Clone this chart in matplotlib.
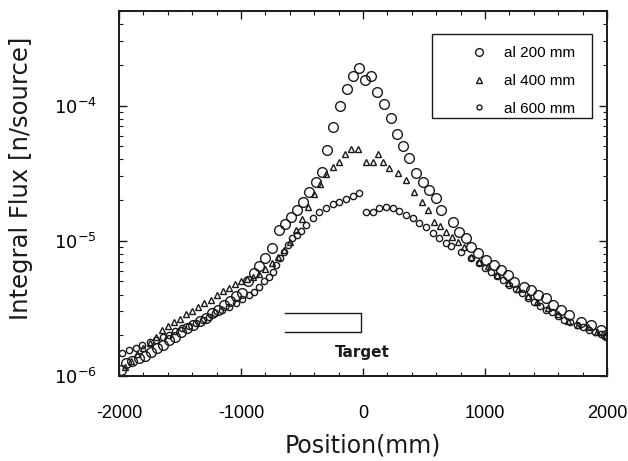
import math
import matplotlib
matplotlib.use("Agg")
import matplotlib.pyplot as plt
from matplotlib.ticker import FixedLocator, MultipleLocator, LogLocator, NullFormatter, FuncFormatter
from matplotlib.patches import Rectangle

# ---------------- data ----------------
x_200 = [-1985, -1940, -1890, -1840, -1790, -1740, -1690, -1640, -1590, -1540,
         -1490, -1440, -1390, -1340, -1290, -1240, -1190, -1140, -1090, -1040,
         -990, -940, -890, -850, -800, -745, -690, -640, -590, -540,
         -490, -440, -385, -340, -295, -245, -190, -130, -80, -30,
         15, 65, 115, 170, 230, 280, 330,
         377, 434, 492, 541, 598, 639, 738, 787, 844, 885, 943, 1008, 1074, 1131,
         1189, 1238, 1320, 1377, 1434, 1500, 1557, 1623, 1689, 1787, 1869, 1951, 1995]
y_200 = [1.1e-6, 1.25e-6, 1.3e-6, 1.35e-6, 1.4e-6, 1.5e-6, 1.6e-6, 1.7e-6, 1.85e-6, 1.95e-6,
         2.1e-6, 2.25e-6, 2.4e-6, 2.55e-6, 2.7e-6, 2.9e-6, 3.1e-6, 3.35e-6, 3.6e-6, 3.9e-6,
         4.1e-6, 5.0e-6, 5.8e-6, 6.5e-6, 7.5e-6, 8.9e-6, 12.0e-6, 13.2e-6, 15.0e-6, 17.0e-6,
         19.5e-6, 22.9e-6, 27.0e-6, 32.0e-6, 46.8e-6, 69.0e-6, 100e-6, 132e-6, 166e-6, 190e-6,
         155e-6, 166e-6, 126e-6, 102e-6, 81e-6, 62e-6, 50e-6,
         41.2e-6, 31.9e-6, 27.4e-6, 23.9e-6, 20.8e-6, 17.0e-6, 13.8e-6, 11.7e-6, 10.5e-6,
         9.04e-6, 8.15e-6, 7.23e-6, 6.64e-6, 6.10e-6, 5.60e-6, 4.97e-6, 4.56e-6, 4.34e-6,
         3.98e-6, 3.78e-6, 3.36e-6, 3.08e-6, 2.83e-6, 2.51e-6, 2.39e-6, 2.19e-6, 2.01e-6]

x_400 = [-1950, -1900, -1850, -1800, -1750, -1700, -1650, -1600, -1550, -1500,
         -1450, -1400, -1350, -1300, -1250, -1200, -1150, -1100, -1050, -1000,
         -950, -900, -850, -800, -750, -700, -650, -600, -550, -500,
         -450, -400, -350, -300, -250, -200, -150, -100, -45,
         25, 80, 125, 165, 215, 285, 350, 418, 480, 533, 582, 630, 680, 730, 780,
         830, 885, 950, 1025, 1100, 1189, 1270, 1352, 1430, 1516, 1600, 1680, 1760,
         1844, 1920, 1995]
y_400 = [1.17e-6, 1.3e-6, 1.45e-6, 1.6e-6, 1.75e-6, 1.95e-6, 2.2e-6, 2.35e-6, 2.5e-6, 2.65e-6,
         2.85e-6, 3.05e-6, 3.25e-6, 3.45e-6, 3.65e-6, 3.95e-6, 4.25e-6, 4.5e-6, 4.8e-6, 5.0e-6,
         5.2e-6, 5.4e-6, 5.7e-6, 6.2e-6, 6.8e-6, 7.6e-6, 8.6e-6, 9.8e-6, 12.0e-6, 14.5e-6,
         17.8e-6, 22.0e-6, 26.5e-6, 31.0e-6, 35.0e-6, 38.5e-6, 44.0e-6, 48.0e-6, 47.5e-6,
         38.0e-6, 38.5e-6, 43.7e-6, 38.5e-6, 34.7e-6, 31.6e-6, 28.2e-6, 22.9e-6, 19.5e-6,
         17.0e-6, 13.8e-6, 12.9e-6, 11.7e-6, 10.7e-6, 9.8e-6, 9.0e-6, 7.6e-6, 7.0e-6,
         6.46e-6, 5.6e-6, 4.9e-6, 4.4e-6, 3.9e-6, 3.5e-6, 3.16e-6, 2.85e-6, 2.57e-6,
         2.4e-6, 2.29e-6, 2.1e-6, 2.0e-6]

x_600 = [-1975, -1918, -1860, -1811, -1750, -1697, -1640, -1590, -1540, -1484,
         -1430, -1369, -1310, -1262, -1210, -1156, -1100, -1041, -990, -934,
         -890, -852, -810, -770, -740, -713, -680, -648, -615, -582,
         -545, -508, -467, -410, -361, -303, -246, -197, -139, -82, -33,
         25, 82, 131, 189, 246, 295, 352, 410, 459, 516, 574, 623, 680, 721, 803,
         885, 950, 1000, 1050, 1100, 1150, 1200, 1250, 1300, 1350, 1400, 1450,
         1500, 1550, 1600, 1650, 1700, 1750, 1800, 1850, 1900, 1950, 1995]
y_600 = [1.48e-6, 1.55e-6, 1.62e-6, 1.70e-6, 1.78e-6, 1.86e-6, 1.95e-6, 2.0e-6, 2.14e-6, 2.26e-6,
         2.35e-6, 2.45e-6, 2.6e-6, 2.75e-6, 2.9e-6, 3.09e-6, 3.25e-6, 3.47e-6, 3.7e-6, 3.98e-6,
         4.2e-6, 4.57e-6, 5.0e-6, 5.37e-6, 5.9e-6, 6.61e-6, 7.4e-6, 8.32e-6, 9.3e-6, 10.5e-6,
         11.0e-6, 11.9e-6, 13.0e-6, 14.8e-6, 16.2e-6, 17.4e-6, 18.6e-6, 19.5e-6, 20.4e-6, 21.4e-6, 22.4e-6,
         16.2e-6, 16.2e-6, 17.4e-6, 17.8e-6, 17.4e-6, 16.6e-6, 15.5e-6, 14.8e-6, 13.5e-6,
         12.6e-6, 11.5e-6, 10.5e-6, 9.66e-6, 9.12e-6, 8.32e-6, 7.41e-6, 6.8e-6, 6.3e-6,
         5.9e-6, 5.5e-6, 5.1e-6, 4.7e-6, 4.4e-6, 4.1e-6, 3.8e-6, 3.55e-6, 3.3e-6,
         3.1e-6, 2.95e-6, 2.8e-6, 2.6e-6, 2.5e-6, 2.4e-6, 2.3e-6, 2.2e-6, 2.1e-6, 2.05e-6, 1.95e-6]

series_labels = ["al 200 mm", "al 400 mm", "al 600 mm"]
x_ticks = [-2000, -1000, 0, 1000, 2000]
y_ticks = [1e-6, 1e-5, 1e-4]
target_x = [-640, -15]
target_y = [2.12e-6, 2.93e-6]
target_label = "Target"

# ---------------- figure ----------------
plt.rcParams['font.family'] = ['Liberation Sans', 'DejaVu Sans']
fig = plt.figure(figsize=(6.28, 4.61), dpi=100)
ax = fig.add_axes([119/628, 1-376/461, (607-119)/628, (376-11)/461])

ink = '#1a1a1a'
ax.plot(x_200, y_200, linestyle='none', marker='o', ms=7.0, mfc='none', mec=ink, mew=1.0,
        label=series_labels[0])
ax.plot(x_400, y_400, linestyle='none', marker='^', ms=5.0, mfc='none', mec=ink, mew=1.0,
        label=series_labels[1])
ax.plot(x_600, y_600, linestyle='none', marker='o', ms=4.5, mfc='none', mec=ink, mew=1.0,
        label=series_labels[2])

ax.set_yscale('log')
ax.set_xlim(-2000, 2000)
ax.set_ylim(1e-6, 5e-4)

ax.xaxis.set_major_locator(FixedLocator(x_ticks))
ax.xaxis.set_minor_locator(MultipleLocator(200))
ax.yaxis.set_major_locator(FixedLocator(y_ticks))
ax.yaxis.set_minor_locator(LogLocator(base=10, subs=range(2, 10)))
ax.yaxis.set_minor_formatter(NullFormatter())
ax.yaxis.set_major_formatter(FuncFormatter(lambda v, p: r'$10^{%d}$' % round(math.log10(v))))
ax.xaxis.set_major_formatter(FuncFormatter(lambda v, p: '%d' % v))

ax.tick_params(which='both', direction='in', top=True, right=True, color=ink)
ax.tick_params(which='major', length=6, width=1.0, labelsize=13)
ax.tick_params(which='minor', length=3, width=0.8)
ax.tick_params(axis='x', which='major', pad=21)
ax.tick_params(axis='y', which='major', pad=16)
for s in ax.spines.values():
    s.set_linewidth(1.4)
    s.set_color(ink)

ax.set_xlabel('Position(mm)', fontsize=17, color=ink, family='DejaVu Sans')
ax.set_ylabel('Integral Flux [n/source]', fontsize=17.5, color=ink, family='DejaVu Sans')
ax.xaxis.set_label_coords((363 - 119) / 488, (376 - 445) / 365)
ax.yaxis.set_label_coords((21 - 119) / 488, (376 - 178) / 365)
ax.xaxis.label.set_va('center')
ax.yaxis.label.set_va('center')

# target bar (open on the left)
ax.plot([target_x[0], target_x[1], target_x[1], target_x[0]],
        [target_y[1], target_y[1], target_y[0], target_y[0]], color=ink, lw=1.0)
ax.text(sum(target_x) / 2 + 320, 1.5e-6, target_label, ha='center', va='center',
        fontsize=11, fontweight='bold', color=ink, family='DejaVu Sans')

# legend: box drawn separately so its padding can match the reference
legend_box = Rectangle((0.641, 0.707), 0.328, 0.230, transform=ax.transAxes,
                       fill=False, edgecolor=ink, lw=1.0, zorder=4)
ax.add_patch(legend_box)
leg = ax.legend(loc='center', bbox_to_anchor=(0.826, 0.808),
                frameon=False, fontsize=11, borderpad=0, labelspacing=0.9,
                handletextpad=0.95, borderaxespad=0, handlelength=1.4, markerscale=0.8)

fig.savefig('out.png', dpi=100)
